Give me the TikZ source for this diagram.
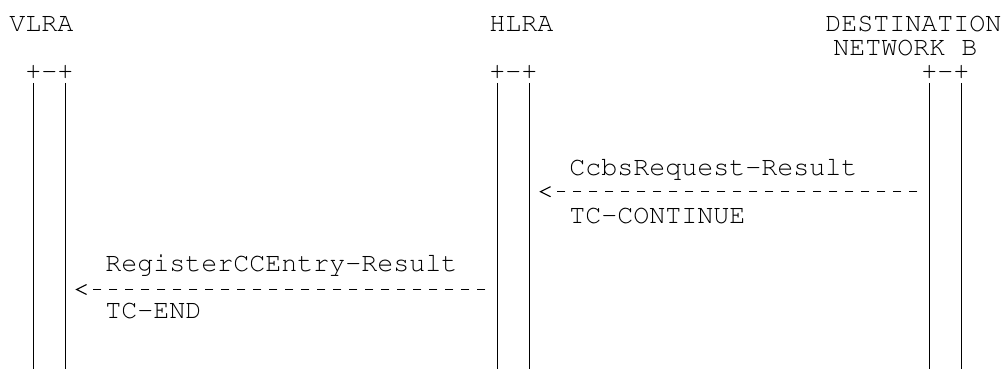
\documentclass[tikz,border=0pt]{standalone}
\usepackage[T1]{fontenc}
\usepackage{tikz}
\usetikzlibrary{arrows.meta}
\newcommand{\cour}{\fontencoding{T1}\fontfamily{pcr}\fontsize{26.67}{30}\selectfont}

\begin{document}
\begin{tikzpicture}[x=1pt, y=-1pt,
	lbl/.style={anchor=base west, inner sep=0pt, outer sep=0pt,
		text height=15pt, text depth=0pt, font=\cour},
	bar/.style={line width=1.3pt},
	dsh/.style={line width=1.1pt, dash pattern=on 8pt off 8pt, shorten <=12pt},
	hd/.style={line width=1.1pt, -{Straight Barb[length=10pt, width=10pt]},
		shorten <=17pt, shorten >=10pt}]
	\useasboundingbox (0, 0) rectangle (1002, 369);
	\node[lbl] (V) at (9.3, 32) {VLRA};
	\node[lbl] (H) at (489.3, 32) {HLRA};
	\node[lbl] (D) at (825.3, 32) {DESTINATION};
	\node[lbl] (D2) at (833.3, 55.9) {NETWORK B};
	\node[lbl] (vt) at (25.3, 79.8) {+-+};
	\node[lbl] (ht) at (489.3, 79.8) {+-+};
	\node[lbl] (dt) at (921.3, 79.8) {+-+};
	% lifelines
	\coordinate (v1) at (33.3, 83);
	\coordinate (v1b) at (33.3, 369);
	\coordinate (v2) at (65.3, 83);
	\coordinate (v2b) at (65.3, 369);
	\coordinate (h1) at (497.3, 83);
	\coordinate (h1b) at (497.3, 369);
	\coordinate (h2) at (529.3, 83);
	\coordinate (h2b) at (529.3, 369);
	\coordinate (d1) at (929.3, 83);
	\coordinate (d1b) at (929.3, 369);
	\coordinate (d2) at (961.3, 83);
	\coordinate (d2b) at (961.3, 369);
	\draw[bar] (v1) to (v1b);
	\draw[bar] (v2) to (v2b);
	\draw[bar] (h1) to (h1b);
	\draw[bar] (h2) to (h2b);
	\draw[bar] (d1) to (d1b);
	\draw[bar] (d2) to (d2b);
	% messages
	\node[lbl] (m1) at (569.3, 175.4) {CcbsRequest-Result};
	\node[lbl] (m1b) at (569.3, 223.2) {TC-CONTINUE};
	\coordinate (a1) at (929.3, 191.7);
	\coordinate (c1) at (557.3, 191.7);
	\coordinate (b1) at (529.3, 191.7);
	\draw[dsh] (a1) to (c1);
	\draw[hd] (c1) to (b1);
	\node[lbl] (m2) at (105.3, 271) {RegisterCCEntry-Result};
	\node[lbl] (m2b) at (105.3, 318.8) {TC-END};
	\coordinate (a2) at (497.3, 289.5);
	\coordinate (c2) at (93.3, 289.5);
	\coordinate (b2) at (65.3, 289.5);
	\draw[dsh] (a2) to (c2);
	\draw[hd] (c2) to (b2);
\end{tikzpicture}
\end{document}
